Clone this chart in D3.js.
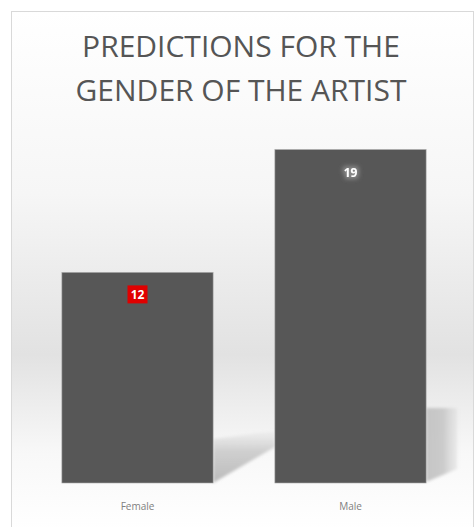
<!DOCTYPE html>
<html><head><meta charset="utf-8">
<script src="https://cdn.jsdelivr.net/npm/d3@7"></script>
<style>body{margin:0;background:#fff}svg{display:block}</style>
</head><body>
<script>
const categories = ["Female", "Male"];
const values = [12, 19];
const titleLines = ["PREDICTIONS FOR THE", "GENDER OF THE ARTIST"];

const W = 475, H = 527;
const svg = d3.select("body").append("svg").attr("width", W).attr("height", H);
const defs = svg.append("defs");

const bg = defs.append("linearGradient").attr("id","bg").attr("x1",0).attr("y1",0).attr("x2",0).attr("y2",1);
bg.append("stop").attr("offset","0%").attr("stop-color","#ffffff");
bg.append("stop").attr("offset","35%").attr("stop-color","#f6f6f6");
bg.append("stop").attr("offset","66%").attr("stop-color","#e2e2e2");
bg.append("stop").attr("offset","85%").attr("stop-color","#f8f8f8");
bg.append("stop").attr("offset","100%").attr("stop-color","#ffffff");

const sh1 = defs.append("linearGradient").attr("id","sh1").attr("x1",0).attr("y1",0).attr("x2",0).attr("y2",1);
sh1.append("stop").attr("offset","0%").attr("stop-color","#c8c8c8").attr("stop-opacity",0.1);
sh1.append("stop").attr("offset","40%").attr("stop-color","#c4c4c4").attr("stop-opacity",0.8);
sh1.append("stop").attr("offset","100%").attr("stop-color","#bababa").attr("stop-opacity",1);

const sh2 = defs.append("linearGradient").attr("id","sh2").attr("x1",0).attr("y1",0).attr("x2",1).attr("y2",0);
sh2.append("stop").attr("offset","0%").attr("stop-color","#c2c2c2").attr("stop-opacity",0.95);
sh2.append("stop").attr("offset","55%").attr("stop-color","#c6c6c6").attr("stop-opacity",0.9);
sh2.append("stop").attr("offset","100%").attr("stop-color","#dcdcdc").attr("stop-opacity",0.5);

const blur = defs.append("filter").attr("id","blur").attr("x","-20%").attr("y","-20%").attr("width","140%").attr("height","140%");
blur.append("feGaussianBlur").attr("stdDeviation",1.5);

const glow = defs.append("filter").attr("id","glow").attr("x","-50%").attr("y","-50%").attr("width","200%").attr("height","200%");
glow.append("feMorphology").attr("in","SourceAlpha").attr("operator","dilate").attr("radius",2).attr("result","d");
glow.append("feGaussianBlur").attr("in","d").attr("stdDeviation",2).attr("result","b");
glow.append("feFlood").attr("flood-color","#888").attr("result","c");
glow.append("feComposite").attr("in","c").attr("in2","b").attr("operator","in").attr("result","g");
const mg = glow.append("feMerge");
mg.append("feMergeNode").attr("in","g");
mg.append("feMergeNode").attr("in","SourceGraphic");

// chart frame
svg.append("rect").attr("x",11.5).attr("y",11.5).attr("width",462).attr("height",520)
  .attr("fill","url(#bg)").attr("stroke","#d9d9d9");

// title
svg.append("g").selectAll("text").data(titleLines).join("text")
  .attr("x", 241).attr("y",(d,i)=>57 + i*44)
  .attr("text-anchor","middle")
  .attr("font-family","'Open Sans', sans-serif")
  .attr("font-size",30).attr("font-weight",500).attr("fill","#555555")
  .text(d=>d);

const x = d3.scaleBand().domain(categories).range([31, 457]).paddingInner(0.29).paddingOuter(0.145);
const y = d3.scaleLinear().domain([0, 20]).range([483, 132]);

// shadows
const shadows = svg.append("g").attr("filter","url(#blur)");
const y0 = y(0);
{
  const x1 = x(categories[0]) + x.bandwidth(), x2 = x(categories[1]);
  shadows.append("path")
    .attr("d", `M${x1},${y0} L${x1},${y0-44} L${x2},${y0-52} L${x2},${y0-36} Z`)
    .attr("fill","url(#sh1)");
}
{
  const x1 = x(categories[1]) + x.bandwidth(), x2 = x1 + 31;
  const h = y0 - y(values[1]);
  shadows.append("path")
    .attr("d", `M${x1},${y0-1} L${x1},${y0-h*0.225} L${x2},${y0-h*0.225} L${x2},${y0-14} Z`)
    .attr("fill","url(#sh2)");
}

// bars
svg.append("g").selectAll("rect").data(values).join("rect")
  .attr("x",(d,i)=>x(categories[i])).attr("width",x.bandwidth())
  .attr("y",d=>y(d)).attr("height",d=>y(0)-y(d))
  .attr("fill","#575757").attr("stroke","#a8a8a8").attr("stroke-width",0.6);

// data labels
const lbl = svg.append("g");
values.forEach((v,i)=>{
  const cx = x(categories[i]) + x.bandwidth()/2, ty = y(v) + 27;
  if (i === 0) {
    lbl.append("rect").attr("x",cx-10).attr("y",ty-14).attr("width",20).attr("height",18).attr("fill","#e00000");
  }
  lbl.append("text").attr("x",cx).attr("y",ty)
    .attr("text-anchor","middle").attr("font-family","'Open Sans', sans-serif")
    .attr("font-weight","bold").attr("font-size",12).attr("fill","#ffffff")
    .attr("filter", i===1 ? "url(#glow)" : null)
    .text(v);
});

// category labels
svg.append("g").selectAll("text").data(categories).join("text")
  .attr("x",d=>x(d)+x.bandwidth()/2).attr("y",510)
  .attr("text-anchor","middle").attr("font-family","'Open Sans', sans-serif")
  .attr("font-size",10).attr("fill","#7f7f7f")
  .text(d=>d);
</script>
</body></html>
